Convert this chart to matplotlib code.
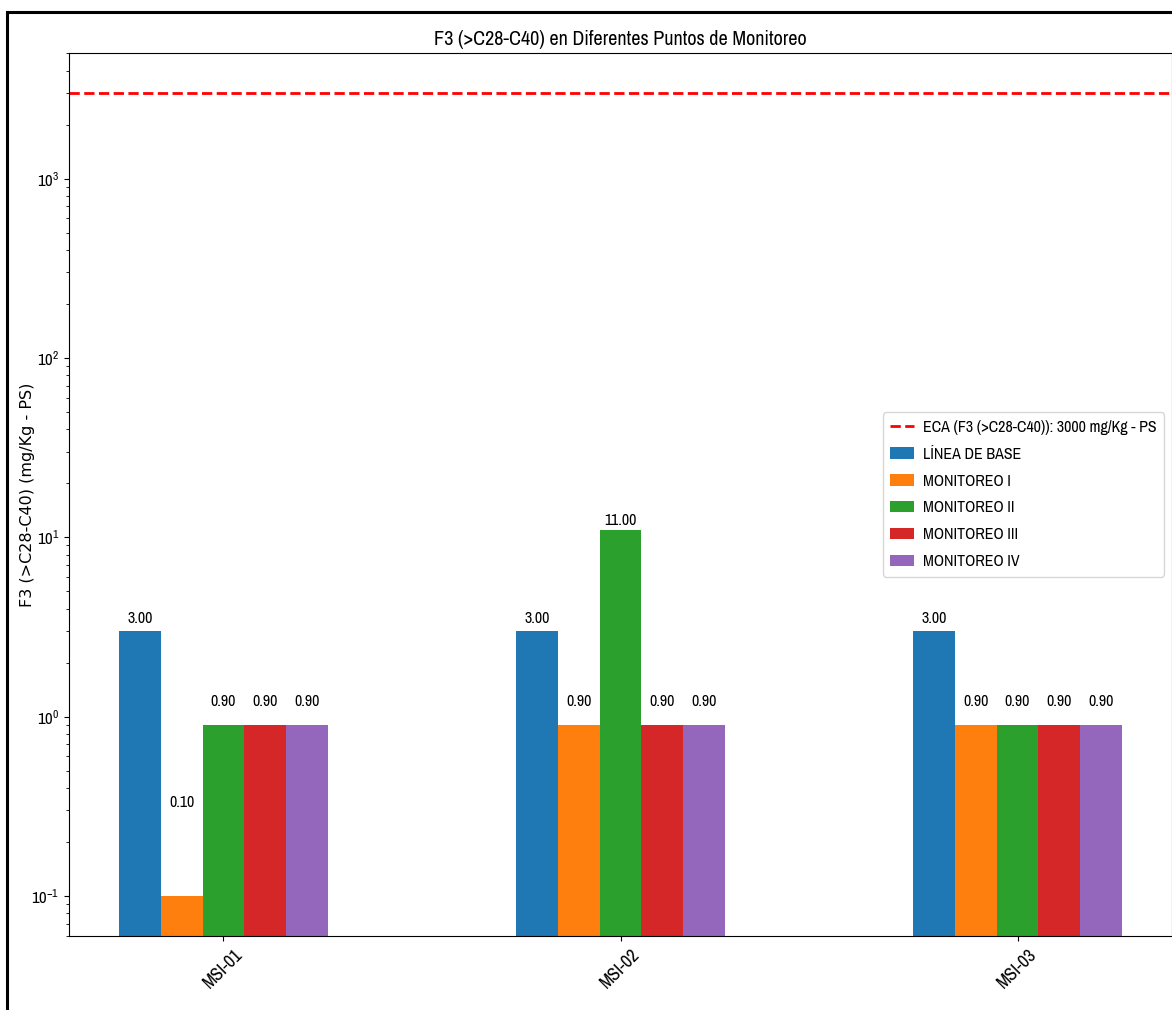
import matplotlib.pyplot as plt
import numpy as np
from matplotlib import font_manager
from matplotlib.patches import Rectangle

puntos = ["MSI-01", "MSI-02", "MSI-03"]
campanas = ["LÍNEA DE BASE", "MONITOREO I", "MONITOREO II", "MONITOREO III", "MONITOREO IV"]
linea_base = [3.0, 3.0, 3.0]
monitoreo_1 = [0.1, 0.9, 0.9]
monitoreo_2 = [0.9, 11.0, 0.9]
monitoreo_3 = [0.9, 0.9, 0.9]
monitoreo_4 = [0.9, 0.9, 0.9]
eca = 3000

series = [linea_base, monitoreo_1, monitoreo_2, monitoreo_3, monitoreo_4]
colores = ["#1f77b4", "#ff7f0e", "#2ca02c", "#d62728", "#9467bd"]

# the reference text is a narrow sans; use one if there is one installed
nombres = sorted({f.name for f in font_manager.fontManager.ttflist})
angostas = [n for n in nombres if "Narrow" in n or "Condensed" in n]
stretch = "normal"
if angostas:
    fuente = angostas[0]
else:
    condensadas = [f.name for f in font_manager.fontManager.ttflist
                   if f.stretch in ("condensed", "semi-condensed", 500 - 125, 400 - 100)]
    if condensadas:
        fuente = condensadas[0]
        stretch = "condensed"
    else:
        fuente = "Lato"
plt.rcParams["font.family"] = [fuente, "DejaVu Sans"]
plt.rcParams["font.stretch"] = stretch

fig = plt.figure(figsize=(11.72, 10.10), dpi=100)
ax = fig.add_axes([69 / 1172, 1 - 936 / 1010, 1.0 - 69 / 1172, (936 - 53) / 1010])

x = np.arange(len(puntos))
w = 0.105

ax.axhline(eca, color="red", linestyle="--", linewidth=2,
           label=f"ECA (F3 (>C28-C40)): {eca} mg/Kg - PS")

for i, (nombre, valores) in enumerate(zip(campanas, series)):
    pos = x + (i - 2) * w
    ax.bar(pos, valores, w, color=colores[i], label=nombre)
    for px, v in zip(pos, valores):
        ax.text(px, v + 0.2, f"{v:.2f}", ha="center", va="bottom", fontsize=11.5)

ax.set_yscale("log")
ax.set_ylim(10 ** -1.224, 10 ** 3.701)
ax.set_xlim(-0.389, 2.389)
ax.set_xticks(x)
ax.set_xticklabels(puntos, rotation=45, fontsize=13)
ax.tick_params(axis="y", labelsize=12)
ax.set_ylabel("F3 (>C28-C40) (mg/Kg - PS)", family="DejaVu Sans", stretch="normal", fontsize=11.5)
ax.yaxis.set_label_coords(-0.031, 0.5)
ax.set_title("F3 (>C28-C40) en Diferentes Puntos de Monitoreo", fontsize=14.5)
ax.legend(loc="center right", fontsize=11.5, labelspacing=0.75, handlelength=1.5,
          handletextpad=0.6, borderpad=0.45)

fig.patches.append(Rectangle((7 / 1172, -0.1), 1.2, 0.988 + 0.1, transform=fig.transFigure,
                             fill=False, edgecolor="black", linewidth=2.2))

fig.savefig("out.png", dpi=100)
